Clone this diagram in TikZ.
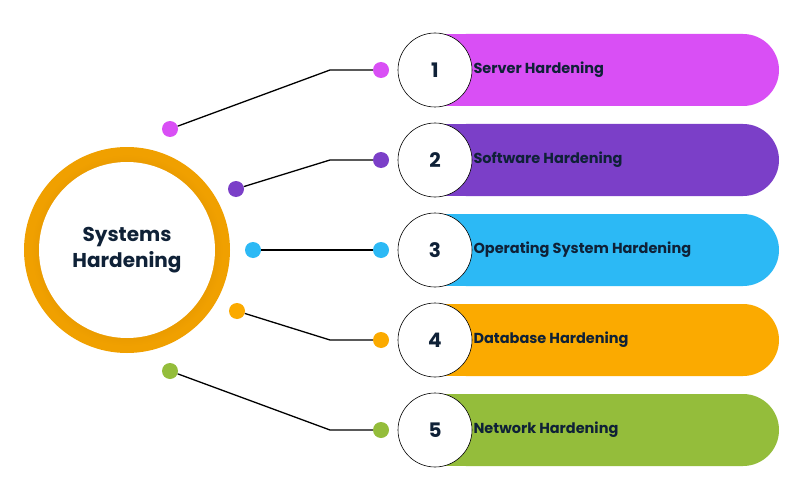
\documentclass[tikz,border=0pt]{standalone}
\usepackage{fontspec}
\setmainfont{Poppins}
\begin{document}
\begin{tikzpicture}[x=1pt,y=-1pt,
  num/.style={circle,draw=black,line width=0.6pt,fill=white,minimum size=74pt,inner sep=0pt,font=\bfseries\fontsize{20}{22}\selectfont,text=navy},
  lbl/.style={anchor=west,font=\bfseries\fontsize{14.5}{16}\selectfont,text=navy},
  dot/.style={circle,fill=#1,minimum size=16pt,inner sep=0pt},
  con/.style={draw=black,line width=1.3pt}]
\definecolor{navy}{HTML}{0F2137}
\definecolor{c1}{HTML}{D94FF5}
\definecolor{c2}{HTML}{7B3FC8}
\definecolor{c3}{HTML}{2CB9F5}
\definecolor{c4}{HTML}{FBAA00}
\definecolor{c5}{HTML}{94BD3B}
\definecolor{ring}{HTML}{F0A000}
\definecolor{ringd}{HTML}{B06A00}
\useasboundingbox (0,0) rectangle (800,500);
\fill[white] (0,0) rectangle (800,500);
% center circle
\fill[ring] (127,250) circle (103);
\shade[inner color=ringd,outer color=ring] (127,250) circle (96);
\node[circle,fill=white,minimum size=176pt,inner sep=0pt,align=center,font=\bfseries\fontsize{20}{26}\selectfont,text=navy] (hub) at (127,250) {Systems\\Hardening};
\foreach \i/\y/\c/\t/\lx/\ly in {1/70/c1/Server Hardening/170/129,
  2/160/c2/Software Hardening/236/189,
  3/250/c3/Operating System Hardening/253/250,
  4/340/c4/Database Hardening/237/311,
  5/430/c5/Network Hardening/170/371}{
  \fill[\c,rounded corners=36pt] (430,\y-36) rectangle (779,\y+36);
  \fill[\c] (430,\y-36) rectangle (470,\y+36);
  \node[num] (n\i) at (435,\y) {\i};
  \node[lbl] (t\i) at (470,\y) {\t};
  \node[dot=\c] (r\i) at (381,\y) {};
  \node[dot=\c] (l\i) at (\lx,\ly) {};
  \coordinate (e\i) at (330,\y);
  \draw[con] (l\i) -- (e\i) -- (r\i);
}
\end{tikzpicture}
\end{document}
